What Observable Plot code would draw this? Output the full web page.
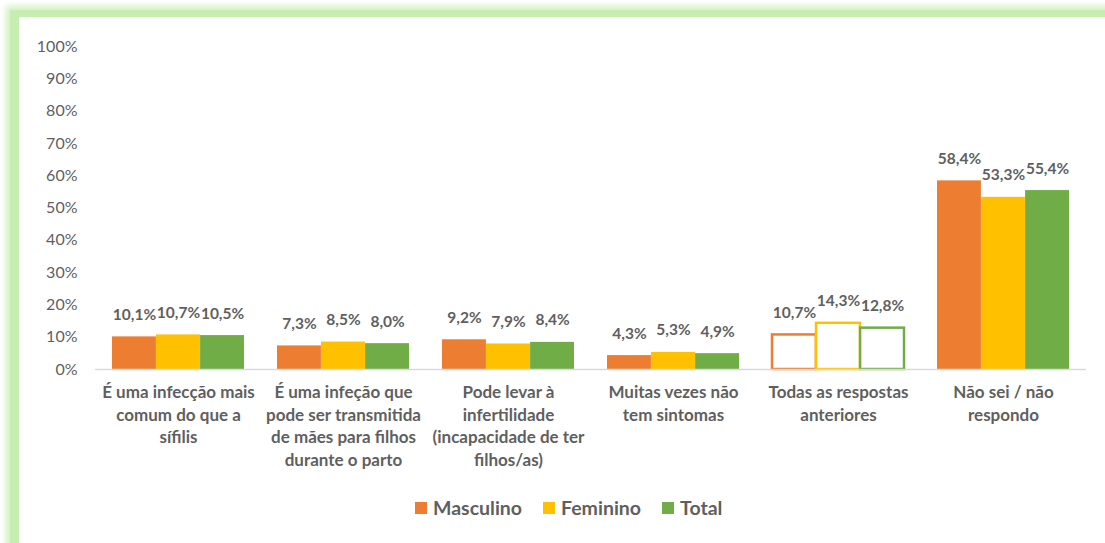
<!DOCTYPE html>
<html>
<head>
<meta charset="utf-8">
<script src="https://cdn.jsdelivr.net/npm/d3@7"></script>
<script src="https://cdn.jsdelivr.net/npm/@observablehq/plot@0.6"></script>
<style>
  html, body { margin: 0; padding: 0; background: white; overflow: hidden; width: 1105px; height: 543px; }
  #frame { position: absolute; left: 10px; top: 10px; width: 1140px; height: 580px;
           border-left: 9px solid #c6eeb1; border-top: 7px solid #c6eeb1;
           box-shadow: -2px -2px 6px 2px rgba(198,238,177,0.8); background: white; }
  #chart { position: absolute; left: 0; top: 0; }
  #legend { position: absolute; left: 415px; top: 496px; display: flex; align-items: center;
            font-family: Lato, sans-serif; font-weight: bold; font-size: 19.5px; color: #5f5f5f; }
  #legend .item { display: flex; align-items: center; margin-right: 21px; }
  #legend .sw { width: 12px; height: 12px; margin-right: 6px; }
</style>
</head>
<body>
<div id="frame"></div>
<div id="chart"></div>
<div id="legend"></div>
<script>
const categories = [
  "É uma infecção mais comum do que a sífilis",
  "É uma infeção que pode ser transmitida de mães para filhos durante o parto",
  "Pode levar à infertilidade (incapacidade de ter filhos/as)",
  "Muitas vezes não tem sintomas",
  "Todas as respostas anteriores",
  "Não sei / não respondo"
];
const categoryLabels = [
  "É uma infecção mais\ncomum do que a\nsífilis",
  "É uma infeção que\npode ser transmitida\nde mães para filhos\ndurante o parto",
  "Pode levar à\ninfertilidade\n(incapacidade de ter\nfilhos/as)",
  "Muitas vezes não\ntem sintomas",
  "Todas as respostas\nanteriores",
  "Não sei / não\nrespondo"
];
const seriesNames = ["Masculino", "Feminino", "Total"];
const masculino = [0.101, 0.073, 0.092, 0.043, 0.107, 0.584];
const feminino  = [0.107, 0.085, 0.079, 0.053, 0.143, 0.533];
const total     = [0.105, 0.080, 0.084, 0.049, 0.128, 0.554];
const yTicks = [0, 0.1, 0.2, 0.3, 0.4, 0.5, 0.6, 0.7, 0.8, 0.9, 1.0];
const outlinedCategory = "Todas as respostas anteriores";

const colors = ["#ED7D31", "#FFC000", "#70AD47"];
const textColor = "#5f5f5f";
const seriesValues = [masculino, feminino, total];

const W = 1105, H = 472;
const marginLeft = 95, marginRight = 19, marginTop = 46, marginBottom = H - 369;
const pIn = 0.2, pOut = 0.1;
const step = (W - marginLeft - marginRight) / (categories.length - pIn + 2 * pOut);
const sub = step * (1 - pIn) / 3;

const loc = d3.formatLocale({decimal: ",", thousands: ".", grouping: [3], currency: ["", ""]});
const fmtLabel = loc.format(".1%");

const rowsBySeries = seriesNames.map((s, i) =>
  categories.map((c, j) => ({category: c, series: s, value: seriesValues[i][j]})));

const marks = [];
rowsBySeries.forEach((rows, i) => {
  marks.push(Plot.barY(rows, {
    x: "category", y: "value",
    fill: d => d.category === outlinedCategory ? "white" : colors[i],
    stroke: d => d.category === outlinedCategory ? colors[i] : "none",
    strokeWidth: 2.5,
    insetLeft: i * sub, insetRight: (2 - i) * sub
  }));
});
marks.push(Plot.ruleY([0], {stroke: "#d9d9d9", strokeWidth: 1.5}));
rowsBySeries.forEach((rows, i) => {
  marks.push(Plot.text(rows, {
    x: "category", y: "value", text: d => fmtLabel(d.value),
    dx: (i - 1) * sub, dy: -17, lineAnchor: "bottom",
    fill: textColor, fontWeight: "bold", fontSize: 15.5
  }));
});
marks.push(Plot.text(categories, {
  x: d => d, text: (d, i) => categoryLabels[i],
  frameAnchor: "bottom", lineAnchor: "top", dy: 13, lineHeight: 1.32,
  fill: textColor, fontWeight: "bold", fontSize: 17
}));

const chart = Plot.plot({
  width: W, height: H,
  marginLeft, marginRight, marginTop, marginBottom,
  style: {fontFamily: "Lato, sans-serif", fontSize: "16px", color: textColor, background: "transparent", overflow: "visible"},
  x: {type: "band", domain: categories, paddingInner: pIn, paddingOuter: pOut, axis: null},
  y: {domain: [0, 1], ticks: yTicks, tickFormat: d3.format(".0%"), tickSize: 0, tickPadding: 18, label: null},
  marks
});
document.getElementById("chart").appendChild(chart);

const legend = document.getElementById("legend");
seriesNames.forEach((s, i) => {
  const item = document.createElement("div");
  item.className = "item";
  const sw = document.createElement("div");
  sw.className = "sw";
  sw.style.background = colors[i];
  const t = document.createElement("span");
  t.textContent = s;
  item.appendChild(sw); item.appendChild(t);
  legend.appendChild(item);
});
</script>
</body>
</html>
